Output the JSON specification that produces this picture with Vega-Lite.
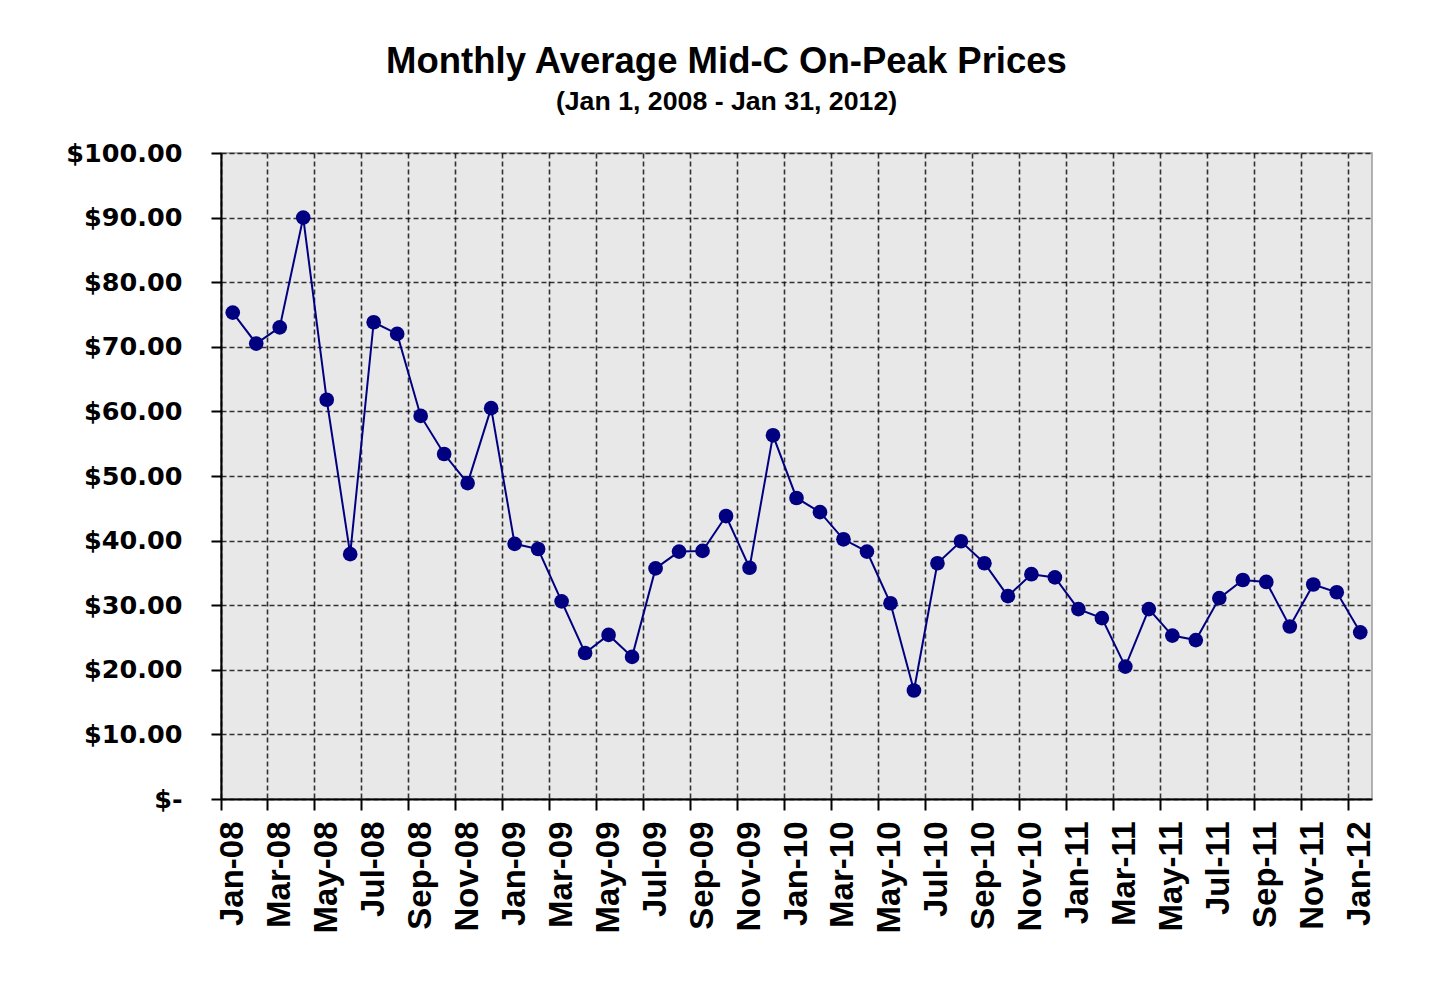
{
  "$schema": "https://vega.github.io/schema/vega-lite/v6.json",
  "width": 1151,
  "height": 646,
  "autosize": "none",
  "padding": {"left": 221, "top": 153, "right": 72, "bottom": 199},
  "background": "#ffffff",
  "title": {
    "text": "Monthly Average Mid-C On-Peak Prices",
    "subtitle": "(Jan 1, 2008 - Jan 31, 2012)",
    "anchor": "middle",
    "frame": "group",
    "dx": -70,
    "offset": 25,
    "font": "Liberation Sans",
    "fontSize": 36.5,
    "fontWeight": "bold",
    "color": "#000000",
    "subtitleFont": "Liberation Sans",
    "subtitleFontSize": 26.7,
    "subtitleFontWeight": "bold",
    "subtitleColor": "#000000",
    "subtitlePadding": 9
  },
  "config": {
    "view": {"fill": "#e8e8e8", "stroke": "#9a9a9a", "strokeWidth": 1.5}
  },
  "data": {
    "values": [
      {"m": "Jan-08", "p": 75.3}, {"m": "Feb-08", "p": 70.5}, {"m": "Mar-08", "p": 73.0},
      {"m": "Apr-08", "p": 90.0}, {"m": "May-08", "p": 61.8}, {"m": "Jun-08", "p": 37.9},
      {"m": "Jul-08", "p": 73.8}, {"m": "Aug-08", "p": 72.0}, {"m": "Sep-08", "p": 59.3},
      {"m": "Oct-08", "p": 53.4}, {"m": "Nov-08", "p": 48.9}, {"m": "Dec-08", "p": 60.5},
      {"m": "Jan-09", "p": 39.5}, {"m": "Feb-09", "p": 38.7}, {"m": "Mar-09", "p": 30.6},
      {"m": "Apr-09", "p": 22.6}, {"m": "May-09", "p": 25.4}, {"m": "Jun-09", "p": 22.0},
      {"m": "Jul-09", "p": 35.7}, {"m": "Aug-09", "p": 38.3}, {"m": "Sep-09", "p": 38.4},
      {"m": "Oct-09", "p": 43.8}, {"m": "Nov-09", "p": 35.8}, {"m": "Dec-09", "p": 56.3},
      {"m": "Jan-10", "p": 46.6}, {"m": "Feb-10", "p": 44.4}, {"m": "Mar-10", "p": 40.2},
      {"m": "Apr-10", "p": 38.3}, {"m": "May-10", "p": 30.3}, {"m": "Jun-10", "p": 16.8},
      {"m": "Jul-10", "p": 36.5}, {"m": "Aug-10", "p": 39.9}, {"m": "Sep-10", "p": 36.5},
      {"m": "Oct-10", "p": 31.4}, {"m": "Nov-10", "p": 34.8}, {"m": "Dec-10", "p": 34.3},
      {"m": "Jan-11", "p": 29.4}, {"m": "Feb-11", "p": 28.0}, {"m": "Mar-11", "p": 20.5},
      {"m": "Apr-11", "p": 29.4}, {"m": "May-11", "p": 25.3}, {"m": "Jun-11", "p": 24.6},
      {"m": "Jul-11", "p": 31.1}, {"m": "Aug-11", "p": 33.9}, {"m": "Sep-11", "p": 33.6},
      {"m": "Oct-11", "p": 26.7}, {"m": "Nov-11", "p": 33.2}, {"m": "Dec-11", "p": 32.0},
      {"m": "Jan-12", "p": 25.8}
    ]
  },
  "encoding": {
    "x": {
      "field": "m",
      "type": "ordinal",
      "sort": null,
      "scale": {"type": "band", "paddingInner": 0, "paddingOuter": 0},
      "axis": {
        "title": null,
        "values": ["Jan-08", "Mar-08", "May-08", "Jul-08", "Sep-08", "Nov-08", "Jan-09", "Mar-09", "May-09", "Jul-09", "Sep-09", "Nov-09", "Jan-10", "Mar-10", "May-10", "Jul-10", "Sep-10", "Nov-10", "Jan-11", "Mar-11", "May-11", "Jul-11", "Sep-11", "Nov-11", "Jan-12"],
        "bandPosition": 0,
        "labelAngle": 270,
        "labelAlign": "right",
        "labelBaseline": "middle",
        "labelFont": "Liberation Sans",
        "labelFontWeight": "bold",
        "labelFontSize": 33,
        "labelColor": "#000000",
        "labelPadding": 11,
        "labelOverlap": false,
        "grid": true,
        "gridColor": "#111111",
        "gridDash": [5, 3],
        "gridWidth": 1.6,
        "gridOpacity": 0.85,
        "domainColor": "#000000",
        "domainWidth": 2,
        "tickColor": "#000000",
        "tickWidth": 2,
        "tickSize": 11
      }
    },
    "y": {
      "field": "p",
      "type": "quantitative",
      "scale": {"domain": [0, 100], "nice": false, "zero": true},
      "axis": {
        "title": null,
        "values": [0, 10, 20, 30, 40, 50, 60, 70, 80, 90, 100],
        "labelExpr": "datum.value == 0 ? '$-\u00a0\u00a0' : '$' + format(datum.value, '.2f')",
        "labelFont": "DejaVu Sans",
        "labelFontWeight": "bold",
        "labelFontSize": 25.5,
        "labelColor": "#000000",
        "labelPadding": 29,
        "grid": true,
        "gridColor": "#111111",
        "gridDash": [5, 3],
        "gridWidth": 1.6,
        "gridOpacity": 0.85,
        "domainColor": "#000000",
        "domainWidth": 2,
        "tickColor": "#000000",
        "tickWidth": 2,
        "tickSize": 10
      }
    }
  },
  "layer": [
    {"mark": {"type": "line", "color": "#000080", "strokeWidth": 2}},
    {"mark": {"type": "point", "filled": true, "color": "#000080", "opacity": 1, "size": 215}}
  ]
}
